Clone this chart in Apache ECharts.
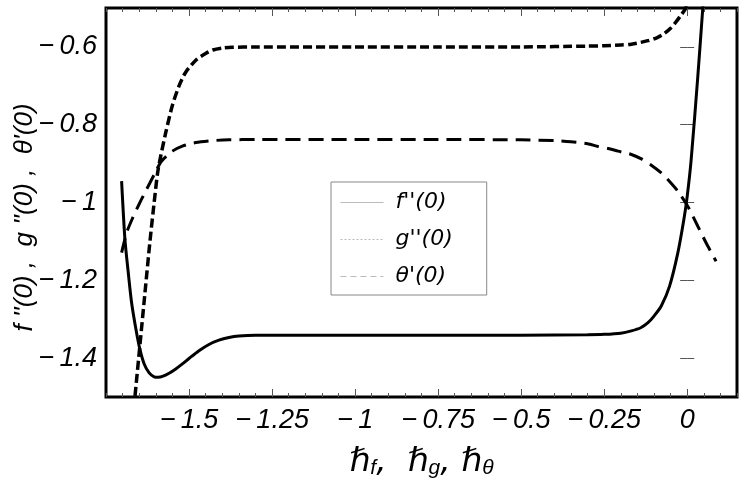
<!DOCTYPE html>
<html><head><meta charset="utf-8">
<script src="https://cdn.jsdelivr.net/npm/echarts@6/dist/echarts.min.js"></script>
<style>html,body{margin:0;padding:0;background:#fff}#c{width:745px;height:481px}</style>
</head><body><div id="c"></div>
<script>
// f''(0)
const fx = [-1.703,-1.693,-1.683,-1.673,-1.66,-1.648,-1.635,-1.62,-1.605,-1.593,-1.58,-1.56,-1.54,-1.52,-1.5,-1.47,-1.44,-1.41,-1.38,-1.35,-1.3,-1.25,-1.0,-0.75,-0.5,-0.3,-0.25,-0.2,-0.168,-0.14,-0.118,-0.1,-0.078,-0.053,-0.028,-0.01,0.0,0.012,0.032,0.047,0.055];
const fy = [-0.945,-1.095,-1.18,-1.257,-1.325,-1.377,-1.415,-1.438,-1.448,-1.449,-1.447,-1.439,-1.428,-1.415,-1.401,-1.381,-1.365,-1.354,-1.347,-1.343,-1.341,-1.341,-1.341,-1.341,-1.341,-1.34,-1.339,-1.336,-1.330,-1.322,-1.309,-1.292,-1.266,-1.215,-1.129,-1.044,-0.985,-0.890,-0.676,-0.5,-0.40];
// g''(0)
const gx = [-1.667,-1.663,-1.648,-1.633,-1.618,-1.605,-1.593,-1.57,-1.55,-1.53,-1.51,-1.478,-1.45,-1.428,-1.4,-1.37,-1.3,-1.0,-0.75,-0.5,-0.3,-0.25,-0.2,-0.168,-0.118,-0.09,-0.068,-0.05,-0.033,-0.02,-0.006,0.005];
const gy = [-1.53,-1.5,-1.368,-1.235,-1.103,-1.0,-0.915,-0.82,-0.75,-0.70,-0.665,-0.633,-0.617,-0.608,-0.603,-0.601,-0.6,-0.6,-0.6,-0.6,-0.598,-0.597,-0.595,-0.593,-0.584,-0.576,-0.565,-0.552,-0.535,-0.52,-0.503,-0.48];
// theta'(0)
const tx = [-1.703,-1.688,-1.67,-1.653,-1.635,-1.618,-1.6,-1.583,-1.55,-1.52,-1.48,-1.43,-1.38,-1.3,-1.0,-0.75,-0.5,-0.4,-0.35,-0.3,-0.268,-0.238,-0.208,-0.17,-0.138,-0.108,-0.078,-0.053,-0.028,0.002,0.032,0.062,0.087];
const ty = [-1.129,-1.078,-1.04,-1.009,-0.978,-0.95,-0.92,-0.894,-0.868,-0.855,-0.846,-0.841,-0.839,-0.838,-0.838,-0.838,-0.839,-0.841,-0.844,-0.849,-0.856,-0.861,-0.868,-0.876,-0.888,-0.904,-0.924,-0.946,-0.971,-1.01,-1.061,-1.112,-1.151];

const xMajor = [-1.5,-1.25,-1,-0.75,-0.5,-0.25,0];
const xLabels = ['\u2212\u20091.5','\u2212\u20091.25','\u2212\u20091','\u2212\u20090.75','\u2212\u20090.5','\u2212\u20090.25','0'];
const yMajor = [-1.4,-1.2,-1,-0.8,-0.6];
const yLabels = ['\u2212\u20091.4','\u2212\u20091.2','\u2212\u20091','\u2212\u20090.8','\u2212\u20090.6'];
const names = ["f''(0)","g''(0)","\u03b8'(0)"];

function lab(vals, labs){
  return v => { for (let i=0;i<vals.length;i++) if (Math.abs(vals[i]-v)<1e-6) return labs[i]; return ''; };
}
const pair = (xs, ys) => xs.map((x,i)=>[x, ys[i]]);
const tickFont = {fontFamily:'Liberation Sans', fontStyle:'italic', fontSize:27, color:'#000'};
const XR = {type:'value', min:-1.75, max:0.15, splitLine:{show:false}, axisLine:{show:false}};
const YR = {type:'value', min:-1.5, max:-0.5, splitLine:{show:false}, axisLine:{show:false}};

const chart = echarts.init(document.getElementById('c'), null, {renderer:'canvas'});
chart.setOption({
  animation:false,
  backgroundColor:'#fff',
  color:['#000','#000','#000'],
  grid:{left:106, right:8, top:8, bottom:84, show:true, borderColor:'#000', borderWidth:3, backgroundColor:'transparent', containLabel:false, outerBoundsMode:'none'},
  xAxis:[
    Object.assign({}, XR, {position:'bottom', interval:0.05,
      axisTick:{show:true, inside:true, length:4, lineStyle:{color:'#555', width:1}},
      axisLabel:Object.assign({customValues:xMajor, formatter:lab(xMajor,xLabels), margin:10}, tickFont),
      name:'{a|\u210f}{s|f}{a|,  \u210f}{s|g}{a|, \u210f}{s|\u03b8}',
      nameLocation:'middle', nameGap:46, nameMoveOverlap:false,
      nameTextStyle:{rich:{
        a:{fontFamily:'DejaVu Sans', fontStyle:'italic', fontSize:33, color:'#000', lineHeight:36, verticalAlign:'bottom'},
        s:{fontFamily:'Liberation Sans', fontStyle:'italic', fontSize:21, color:'#000', lineHeight:10, verticalAlign:'bottom'}
      }}
    }),
    Object.assign({}, XR, {position:'bottom', interval:0.25,
      axisTick:{show:true, inside:true, length:8, customValues:xMajor, lineStyle:{color:'#555', width:1}},
      axisLabel:{show:false}}),
    Object.assign({}, XR, {position:'top', interval:0.05,
      axisTick:{show:true, inside:true, length:4, lineStyle:{color:'#555', width:1}},
      axisLabel:{show:false}}),
    Object.assign({}, XR, {position:'top', interval:0.25,
      axisTick:{show:true, inside:true, length:8, customValues:xMajor, lineStyle:{color:'#555', width:1}},
      axisLabel:{show:false}})
  ],
  yAxis:[
    Object.assign({}, YR, {position:'left',
      axisTick:{show:true, inside:true, length:7, customValues:yMajor, lineStyle:{color:'#555', width:1}},
      axisLabel:Object.assign({customValues:yMajor, formatter:lab(yMajor,yLabels), margin:9}, tickFont),
      name:"f ''(0) ,  g ''(0) ,  \u03b8'(0)", nameLocation:'middle', nameGap:68, nameMoveOverlap:false,
      nameTextStyle:{fontFamily:'Liberation Sans', fontStyle:'italic', fontSize:26, color:'#000', padding:[0,30,0,0]}
    }),
    Object.assign({}, YR, {position:'right',
      axisTick:{show:true, inside:true, length:7, customValues:yMajor, lineStyle:{color:'#555', width:1}},
      axisLabel:{show:false}})
  ],
  legend:{
    orient:'vertical', left:331, top:182, padding:[8,34,6,9],
    itemWidth:43, itemHeight:14, itemGap:12,
    borderColor:'#888', borderWidth:1, backgroundColor:'#fff',
    formatter: n => ' ' + n,
    textStyle:{fontFamily:'DejaVu Sans', fontStyle:'italic', fontSize:22, color:'#000', lineHeight:25},
    data:[
      {name:names[0], itemStyle:{opacity:0}, lineStyle:{color:'#bbb', width:1, type:'solid'}},
      {name:names[1], itemStyle:{opacity:0}, lineStyle:{color:'#bbb', width:1, type:[2,2]}},
      {name:names[2], itemStyle:{opacity:0}, lineStyle:{color:'#bbb', width:1, type:[6,4]}}
    ]
  },
  series:[
    {name:names[0], type:'line', data:pair(fx,fy), symbol:'none', smooth:0.25, clip:true,
      itemStyle:{color:'#000'}, lineStyle:{color:'#000', width:3, type:'solid'}, z:3},
    {name:names[1], type:'line', data:pair(gx,gy), symbol:'none', smooth:0.25, clip:true,
      itemStyle:{color:'#000'}, lineStyle:{color:'#000', width:3.5, type:[9,4]}, z:2},
    {name:names[2], type:'line', data:pair(tx,ty), symbol:'none', smooth:0.25, clip:true,
      itemStyle:{color:'#000'}, lineStyle:{color:'#000', width:3, type:[15,8]}, z:2}
  ]
});
</script></body></html>
